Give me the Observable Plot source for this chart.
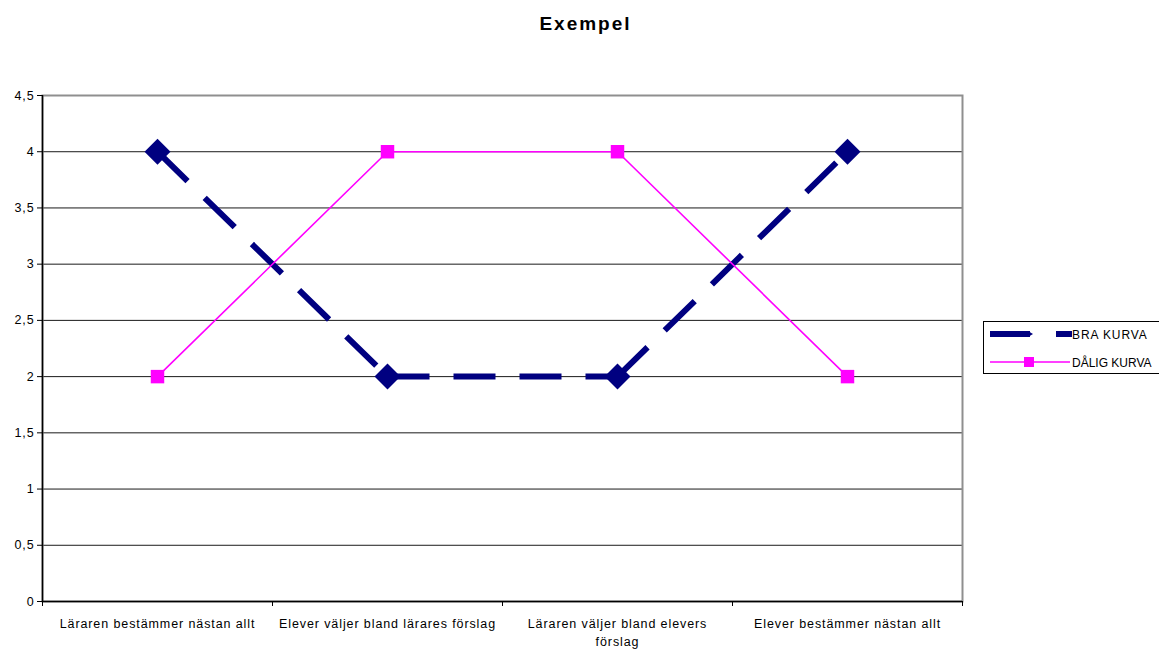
<!DOCTYPE html>
<html>
<head>
<meta charset="utf-8">
<script src="https://cdn.jsdelivr.net/npm/d3@7"></script>
<script src="https://cdn.jsdelivr.net/npm/@observablehq/plot@0.6"></script>
<style>
  body { margin: 0; background: #fff; font-family: "Liberation Sans", Arial, sans-serif; }
  #wrap { position: relative; width: 1159px; height: 650px; overflow: hidden; }
  #title { position: absolute; left: 0; top: 13px; width: 1171px; text-align: center; font-weight: bold; font-size: 19px; letter-spacing: 2px; color: #000; }
  #legend { position: absolute; left: 983px; top: 321px; width: 200px; height: 53px; border: 1px solid #000; background: #fff; box-sizing: border-box; }
  #chart { position: absolute; left: 0; top: 0; }
</style>
</head>
<body>
<div id="wrap">
  <div id="chart"></div>
  <div id="title">Exempel</div>
  <div id="legend"></div>
</div>
<script>
const categories = [
  "Läraren bestämmer nästan allt",
  "Elever väljer bland lärares förslag",
  "Läraren väljer bland elevers förslag",
  "Elever bestämmer nästan allt"
];
const tickLabels = [
  "Läraren bestämmer nästan allt",
  "Elever väljer bland lärares förslag",
  "Läraren väljer bland elevers\nförslag",
  "Elever bestämmer nästan allt"
];
const braKurva = [4, 2, 2, 4];
const daligKurva = [2, 4, 4, 2];
const seriesNames = ["BRA KURVA", "DÅLIG KURVA"];
const yTicks = [0, 0.5, 1, 1.5, 2, 2.5, 3, 3.5, 4, 4.5];

const bra = categories.map((c, i) => ({i, c, v: braKurva[i]}));
const dalig = categories.map((c, i) => ({i, c, v: daligKurva[i]}));
const braSeg = bra.slice(1).map((d, k) => ({a: bra[k], b: d}));

const navy = "#000080";
const pink = "#FF00FF";

const chart = Plot.plot({
  width: 1159,
  height: 650,
  marginLeft: 42,
  marginRight: 197,
  marginTop: 95,
  marginBottom: 49,
  style: {fontFamily: "'Liberation Sans', Arial, sans-serif", fontSize: "12.5px", letterSpacing: "0.9px", color: "#000", background: "transparent"},
  x: {type: "linear", domain: [0, categories.length], axis: null},
  y: {domain: [0, 4.5], axis: null},
  marks: [
    Plot.ruleY(yTicks.filter(t => t > 0 && t < 4.5), {stroke: "#1a1a1a", strokeWidth: 1}),
    Plot.frame({stroke: "#8f8f8f", strokeWidth: 2}),
    Plot.ruleX([0], {stroke: "#000", strokeWidth: 1.5}),
    Plot.ruleY([0], {stroke: "#000", strokeWidth: 1.5}),
    Plot.axisY({ticks: yTicks, label: null, tickFormat: d => String(d).replace(".", ","), tickSize: 5, tickPadding: 3, fontSize: 12.5}),
    Plot.axisX({ticks: d3.range(categories.length + 1), label: null, tickFormat: () => "", tickSize: 5}),
    Plot.text(tickLabels, {x: (d, i) => i + 0.5, y: () => 0, dy: 14, lineAnchor: "top", lineHeight: 1.42, fontSize: 12.5, fill: "#000"}),
    Plot.link(braSeg, {x1: d => d.a.i + 0.5, y1: d => d.a.v, x2: d => d.b.i + 0.5, y2: d => d.b.v,
      stroke: navy, strokeWidth: 6, strokeDasharray: "42,24", strokeLinecap: "butt"}),
    Plot.dot(bra, {x: d => d.i + 0.5, y: "v", symbol: "diamond2", r: 11.7, fill: navy, stroke: "none"}),
    Plot.line(dalig, {x: d => d.i + 0.5, y: "v", stroke: pink, strokeWidth: 1.6}),
    Plot.dot(dalig, {x: d => d.i + 0.5, y: "v", symbol: "square", r: 7.6, fill: pink, stroke: "none"})
  ]
});
document.getElementById("chart").appendChild(chart);

// Legend
const leg = d3.select("#legend").append("svg").attr("width", 200).attr("height", 53)
  .style("font-family", "'Liberation Sans', Arial, sans-serif").style("font-size", "12px");
const g1 = leg.append("g").attr("transform", "translate(0,12)");
g1.append("line").attr("x1", 6).attr("x2", 46).attr("y1", 0).attr("y2", 0).attr("stroke", navy).attr("stroke-width", 6);
g1.append("path").attr("d", "M44,-3 L49,0 L44,3 Z").attr("fill", navy);
g1.append("line").attr("x1", 72).attr("x2", 88).attr("y1", 0).attr("y2", 0).attr("stroke", navy).attr("stroke-width", 6);
g1.append("text").attr("x", 88).attr("y", 4.5).style("letter-spacing", "0.9px").text(seriesNames[0]);
const g2 = leg.append("g").attr("transform", "translate(0,40)");
g2.append("line").attr("x1", 6).attr("x2", 86).attr("y1", 0).attr("y2", 0).attr("stroke", pink).attr("stroke-width", 1.6);
g2.append("rect").attr("x", 40).attr("y", -5).attr("width", 10).attr("height", 10).attr("fill", pink);
g2.append("text").attr("x", 88).attr("y", 4.5).style("letter-spacing", "0px").text(seriesNames[1]);
</script>
</body>
</html>
